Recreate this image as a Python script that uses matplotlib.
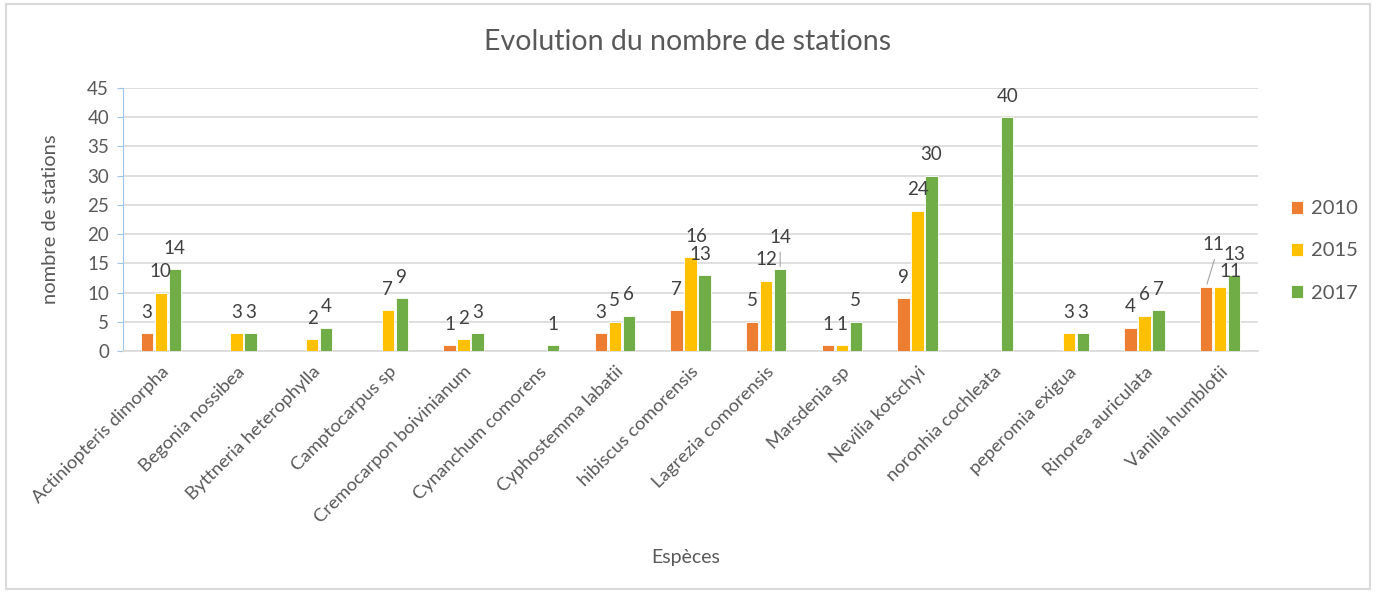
import matplotlib.pyplot as plt
import numpy as np
from matplotlib.patches import Rectangle

plt.rcParams['font.family'] = ['Lato', 'DejaVu Sans']

species = ['Actiniopteris dimorpha', 'Begonia nossibea', 'Byttneria heterophylla',
           'Camptocarpus sp', 'Cremocarpon boivinianum', 'Cynanchum comorens',
           'Cyphostemma labatii', 'hibiscus comorensis', 'Lagrezia comorensis',
           'Marsdenia sp', 'Nevilia kotschyi', 'noronhia cochleata',
           'peperomia exigua', 'Rinorea auriculata', 'Vanilla humblotii']
# nan = empty cell (no bar, no label)
v2010 = [3, np.nan, np.nan, np.nan, 1, np.nan, 3, 7, 5, 1, 9, np.nan, np.nan, 4, 11]
v2015 = [10, 3, 2, 7, 2, np.nan, 5, 16, 12, 1, 24, np.nan, 3, 6, 11]
v2017 = [14, 3, 4, 9, 3, 1, 6, 13, 14, 5, 30, 40, 3, 7, 13]
years = ['2010', '2015', '2017']
colors = ['#ED7D31', '#FFC000', '#70AD47']

# label offsets in pixels (dx, dy, leader line) where Excel moved them
moved = {(0, 14): (7, 42, True), (1, 14): (10, 15, False),
         (1, 7): (6, 21, False), (2, 7): (-4, 21, False),
         (2, 8): (0, 32, True)}

txt = '#595959'
fig = plt.figure(figsize=(13.78, 5.92), dpi=100)
fig.patches.append(Rectangle((6 / 1378, 3 / 592), 1364 / 1378, 585 / 592,
                             transform=fig.transFigure, fill=False,
                             edgecolor='#D9D9D9', lw=1.5))
ax = fig.add_axes([123 / 1378, 1 - 351 / 592, 1135 / 1378, 263 / 592])

x = np.arange(len(species))
w = 0.16
step = 0.185
for k, (vals, c, yr) in enumerate(zip([v2010, v2015, v2017], colors, years)):
    pos = x + (k - 1) * step
    ax.bar(pos, vals, width=w, color=c, edgecolor='white', linewidth=0.6,
           label=yr, zorder=3)
    for i, v in enumerate(vals):
        if np.isnan(v):
            continue
        dx, dy, line = moved.get((k, i), (0, 21, False))
        ax.annotate(str(int(v)), (pos[i], v), xytext=(dx, dy),
                    textcoords='offset pixels', ha='center', va='center',
                    fontsize=13.5, color='#404040', zorder=4)
        if line:
            ax.annotate('', (pos[i], v), xytext=(dx * 1.3, dy - 12),
                        textcoords='offset pixels',
                        arrowprops=dict(arrowstyle='-', color='#A6A6A6', lw=0.8))

ax.set_xlim(-0.5, len(species) - 0.5)
ax.set_ylim(0, 45)
ax.set_yticks(range(0, 50, 5))
ax.yaxis.grid(True, color='#D9D9D9', lw=1.2, zorder=0)
ax.set_axisbelow(True)
for s in ['top', 'right']:
    ax.spines[s].set_visible(False)
ax.spines['left'].set_color('#9DC3E6')
ax.spines['bottom'].set_color('#D9D9D9')
ax.spines['bottom'].set_linewidth(1.2)
ax.tick_params(axis='y', length=4, color='#9DC3E6', labelsize=13.5, labelcolor=txt, pad=6)
ax.tick_params(axis='x', length=0, labelsize=13.3, labelcolor=txt, pad=9)
ax.set_xticks(x)
ax.set_xticklabels(species, rotation=45, ha='right', rotation_mode='anchor')

ax.set_ylabel('nombre de stations', fontsize=14.5, color=txt, labelpad=20)
fig.text(686 / 1378, 1 - 557 / 592, 'Espèces', fontsize=14, color=txt,
         ha='center', va='center')
fig.text(688 / 1378, 1 - 42 / 592, 'Evolution du nombre de stations',
         fontsize=20.5, color=txt, ha='center', va='center')

leg = ax.legend(loc='center left', bbox_to_anchor=(1273 / 1378, 1 - 251 / 592),
                bbox_transform=fig.transFigure, frameon=False, fontsize=14.5,
                handlelength=0.6, handleheight=0.6, handletextpad=0.4,
                labelspacing=1.25)
for t in leg.get_texts():
    t.set_color(txt)

fig.savefig('out.png', dpi=100)
